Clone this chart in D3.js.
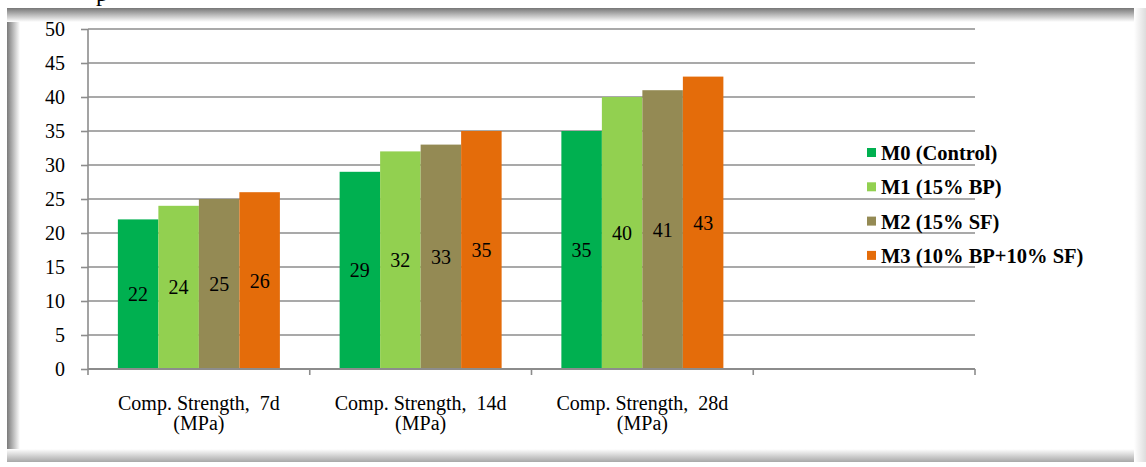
<!DOCTYPE html>
<html><head><meta charset="utf-8">
<script src="https://cdn.jsdelivr.net/npm/d3@7"></script>
<style>html,body{margin:0;padding:0;background:#fff;}svg{display:block;}
svg text{font-family:"Liberation Serif","Times New Roman",Times,serif;}</style>
</head><body>
<svg id="c" width="1146" height="467"></svg>
<script>
const categories = ["Comp. Strength,  7d|(MPa)", "Comp. Strength,  14d|(MPa)", "Comp. Strength,  28d|(MPa)", ""];
const seriesNames = ["M0 (Control)", "M1 (15% BP)", "M2 (15% SF)", "M3 (10% BP+10% SF)"];
const seriesColors = ["#00B050", "#92D050", "#948A54", "#E46C0A"];
const M0 = [22, 29, 35, null];
const M1 = [24, 32, 40, null];
const M2 = [25, 33, 41, null];
const M3 = [26, 35, 43, null];
const yTicks = [0, 5, 10, 15, 20, 25, 30, 35, 40, 45, 50];
const seriesValues = [M0, M1, M2, M3];

const FONT = "'Liberation Serif','Times New Roman',Times,serif";
const svg = d3.select("#c");
const W = 1146, H = 467;
const defs = svg.append("defs");
function grad(id, x1, y1, x2, y2, c1, c2) {
  const g = defs.append("linearGradient").attr("id", id).attr("x1", x1).attr("y1", y1).attr("x2", x2).attr("y2", y2);
  g.append("stop").attr("offset", "0%").attr("stop-color", c1);
  g.append("stop").attr("offset", "100%").attr("stop-color", c2);
}
grad("gl", 0, 0, 1, 0, "#7a7a7a", "#ffffff");
grad("gt", 0, 0, 0, 1, "#777777", "#ffffff");
grad("gb", 0, 0, 0, 1, "#ffffff", "#a8a8a8");
grad("gr", 0, 0, 1, 0, "#ffffff", "#dddddd");

// frame
svg.append("rect").attr("x", 7).attr("y", 8).attr("width", W - 7).attr("height", 454).attr("fill", "#fff");
svg.append("rect").attr("x", 7).attr("y", 8).attr("width", 13).attr("height", 454).attr("fill", "url(#gl)");
svg.append("rect").attr("x", 7).attr("y", 8).attr("width", W - 7).attr("height", 14).attr("fill", "url(#gt)");
svg.append("rect").attr("x", 7).attr("y", 449).attr("width", W - 7).attr("height", 13).attr("fill", "url(#gb)");
svg.append("rect").attr("x", 1134).attr("y", 8).attr("width", 12).attr("height", 454).attr("fill", "url(#gr)");

// cut-off title descender
svg.append("text").attr("x", 96).attr("y", 1).attr("font-family", FONT).attr("font-size", 24).attr("fill", "#000").text("p");

const x0 = 88, x1 = 975, yTop = 29, yBot = 369;
const y = d3.scaleLinear().domain([0, 50]).range([yBot, yTop]);
const xCat = d3.scaleBand().domain(d3.range(categories.length)).range([x0, x1]).padding(0);
const xSer = d3.scaleBand().domain(d3.range(seriesNames.length)).range([0, xCat.bandwidth()]).paddingInner(0).paddingOuter(0.7376);

const gridG = svg.append("g");
yTicks.forEach(t => {
  if (t === 0) return;
  gridG.append("line").attr("x1", x0).attr("x2", x1).attr("y1", y(t)).attr("y2", y(t))
    .attr("stroke", "#8c8c8c").attr("stroke-width", 1.6);
});

// y axis
const yAxis = d3.axisLeft(y).tickValues(yTicks).tickSize(7).tickPadding(16).tickFormat(d3.format("d"));
const gy = svg.append("g").attr("transform", `translate(${x0},0)`).call(yAxis);
gy.attr("font-family", FONT).attr("font-size", 20);
gy.select(".domain").attr("stroke", "#8c8c8c").attr("stroke-width", 1.6).attr("d", `M0,${yTop}V${yBot}`);
gy.selectAll(".tick line").attr("stroke", "#8c8c8c").attr("stroke-width", 1.6);
gy.selectAll(".tick text").attr("fill", "#000");

// bars
seriesValues.forEach((vals, si) => {
  const g = svg.append("g");
  vals.forEach((v, ci) => {
    if (v == null) return;
    const bx = xCat(ci) + xSer(si);
    g.append("rect").attr("x", bx).attr("y", y(v)).attr("width", xSer.bandwidth()).attr("height", y(0) - y(v))
      .attr("fill", seriesColors[si]);
    g.append("text").attr("x", bx + xSer.bandwidth() / 2).attr("y", (y(v) + y(0)) / 2)
      .attr("dy", "0.35em").attr("text-anchor", "middle")
      .attr("font-family", FONT).attr("font-size", 20).attr("fill", "#000").text(v);
  });
});

// x axis
svg.append("line").attr("x1", x0).attr("x2", x1).attr("y1", yBot).attr("y2", yBot).attr("stroke", "#8c8c8c").attr("stroke-width", 1.8);
d3.range(categories.length + 1).forEach(i => {
  const xx = i < categories.length ? xCat(i) : x1;
  svg.append("line").attr("x1", xx).attr("x2", xx).attr("y1", yBot).attr("y2", yBot + 6).attr("stroke", "#8c8c8c").attr("stroke-width", 1.6);
});
categories.forEach((c, i) => {
  if (!c) return;
  const lines = c.split("|");
  const t = svg.append("text").attr("text-anchor", "middle").attr("font-family", FONT).attr("font-size", 20)
    .attr("fill", "#000").style("white-space", "pre");
  lines.forEach((l, k) => {
    t.append("tspan").attr("x", xCat(i) + xCat.bandwidth() / 2).attr("y", 410 + k * 20).text(l);
  });
});

// legend
seriesNames.forEach((n, i) => {
  const ly = 153 + i * 34.3;
  svg.append("rect").attr("x", 867).attr("y", ly - 5).attr("width", 9).attr("height", 9).attr("fill", seriesColors[i]);
  svg.append("text").attr("x", 881).attr("y", ly).attr("dy", "0.35em").attr("font-family", FONT)
    .attr("font-weight", "bold").attr("font-size", 20.5).attr("fill", "#000").text(n);
});
</script>
</body></html>
